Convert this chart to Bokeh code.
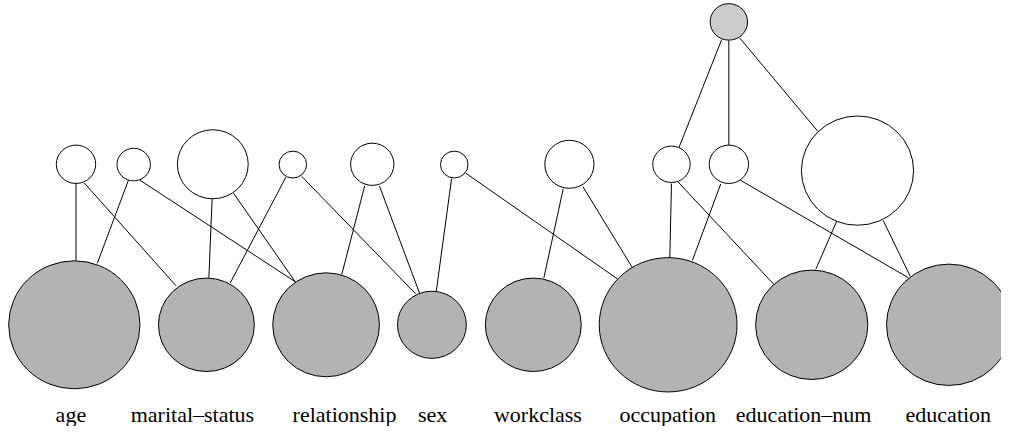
from bokeh.plotting import figure
from bokeh.models import Range1d, ColumnDataSource
from bokeh.embed import file_html
from bokeh.resources import INLINE
from bokeh.core.properties import value

# ---- data (layout units = reference pixels, y pointing down) ----
variables = ["age", "marital\u2013status", "relationship", "sex",
             "workclass", "occupation", "education\u2013num", "education"]
var_x = [75.0, 209.2, 330.8, 438.3, 541.3, 678.3, 824.2, 963.5]
var_y = [344.0, 344.0, 344.0, 344.0, 344.0, 344.0, 344.0, 344.0]
var_r = [66.7, 48.7, 54.2, 35.0, 48.7, 70.0, 57.0, 63.3]
label_x = [71.5, 195.0, 349.5, 439.0, 546.0, 678.0, 816.0, 963.0]
label_y = [438.0] * 8

latent_x = [76.7, 135.3, 215.7, 297.0, 377.7, 461.0, 578.0, 681.7, 740.0, 870.7]
latent_y = [176.7, 177.0, 176.7, 177.0, 176.7, 177.0, 176.7, 176.7, 176.7, 183.3]
latent_r = [20.0, 17.0, 36.0, 14.0, 22.0, 14.0, 25.0, 19.0, 20.0, 57.0]

root_x = [740.0]
root_y = [28.3]
root_r = [19.0]

# edges, boundary to boundary
edge_x0 = [76.7, 85.0, 130.0, 141.7, 215.0, 236.7, 290.0, 306.0, 370.0, 385.0,
           458.3, 472.7, 571.7, 591.7, 681.7, 688.3, 731.7, 751.7, 850.0, 896.7,
           732.7, 740.0, 751.0]
edge_y0 = [196.7, 196.0, 193.3, 193.3, 212.7, 206.7, 190.0, 189.3, 199.3, 199.3,
           191.7, 186.0, 202.3, 200.0, 196.7, 195.0, 197.3, 193.3, 235.0, 235.0,
           46.7, 47.7, 45.0]
edge_x1 = [76.7, 178.3, 98.3, 300.0, 211.7, 300.0, 233.3, 421.7, 346.7, 426.0,
           442.7, 627.0, 552.0, 641.7, 680.0, 785.5, 703.0, 922.5, 828.3, 924.5,
           689.3, 740.0, 830.7]
edge_y1 = [277.3, 303.3, 280.0, 299.5, 295.0, 300.0, 300.5, 311.7, 291.7, 311.7,
           309.3, 296.3, 295.5, 284.0, 275.0, 301.7, 276.7, 295.0, 286.3, 294.0,
           159.3, 156.7, 142.7]

# ---- figure ----
p = figure(width=1001, height=426, output_backend="svg", toolbar_location=None,
           x_range=Range1d(0, 1017), y_range=Range1d(450, 6),
           x_axis_type=None, y_axis_type=None, min_border=0,
           outline_line_color=None, background_fill_color="white",
           border_fill_color="white")
p.grid.visible = False

p.segment(x0=edge_x0, y0=edge_y0, x1=edge_x1, y1=edge_y1,
          line_color="black", line_width=1)

bottom = ColumnDataSource(dict(x=var_x, y=var_y, d=[2 * r for r in var_r]))
p.ellipse(x="x", y="y", width="d", height="d", source=bottom,
          fill_color="#b3b3b3", line_color="black", line_width=1)

mid = ColumnDataSource(dict(x=latent_x, y=latent_y, d=[2 * r for r in latent_r]))
p.ellipse(x="x", y="y", width="d", height="d", source=mid,
          fill_color="white", line_color="black", line_width=1)

top = ColumnDataSource(dict(x=root_x, y=root_y, d=[2 * r for r in root_r]))
p.ellipse(x="x", y="y", width="d", height="d", source=top,
          fill_color="#cccccc", line_color="black", line_width=1)

labels = ColumnDataSource(dict(x=label_x, y=label_y, t=variables))
p.text(x="x", y="y", text="t", source=labels,
       text_font=value("Liberation Serif"),
       text_font_size="22px",
       text_align="center", text_baseline="alphabetic", text_color="black")

open("out.html", "w").write(file_html(p, INLINE))
